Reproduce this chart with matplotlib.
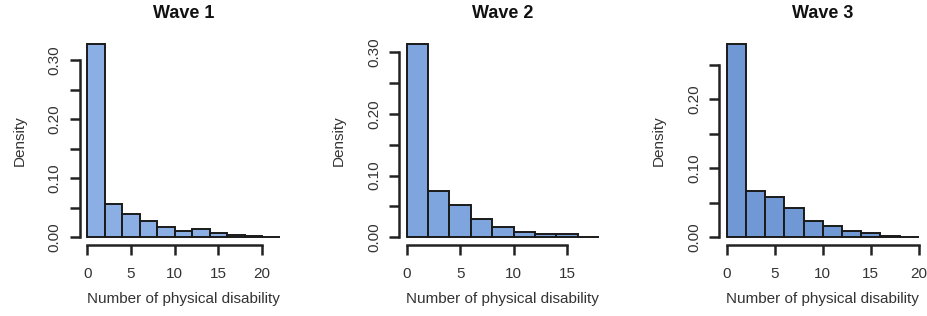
import numpy as np
import matplotlib
matplotlib.use("Agg")
import matplotlib.pyplot as plt

plt.rcParams["font.family"] = ["Liberation Sans", "DejaVu Sans"]

# histogram densities (bin width 2, starting at 0)
wave1_density = [0.328, 0.057, 0.040, 0.027, 0.018, 0.011, 0.0135, 0.0068, 0.0045, 0.002, 0.0008]
wave2_density = [0.314, 0.0746, 0.0524, 0.029, 0.0168, 0.008, 0.005, 0.0045, 0.001]
wave3_density = [0.280, 0.067, 0.0588, 0.0424, 0.024, 0.0164, 0.0096, 0.0067, 0.002, 0.001]

titles = ["Wave 1", "Wave 2", "Wave 3"]
x_ticks = [[0, 5, 10, 15, 20], [0, 5, 10, 15], [0, 5, 10, 15, 20]]
y_ticks = [[0.0, 0.05, 0.10, 0.15, 0.20, 0.25, 0.30],
           [0.0, 0.05, 0.10, 0.15, 0.20, 0.25, 0.30],
           [0.0, 0.05, 0.10, 0.15, 0.20, 0.25]]
colors = ["#8BAFE4", "#7FA5DE", "#6F98D5"]
bin_width = 2

fig = plt.figure(figsize=(9.28, 3.16), dpi=100)
lefts = [0.0858, 0.430, 0.7748]

for i, dens in enumerate([wave1_density, wave2_density, wave3_density]):
    ax = fig.add_axes([lefts[i], 0.2247, 0.2237, 0.661])
    edges = np.arange(len(dens) + 1) * bin_width
    ax.bar(edges[:-1], dens, width=bin_width, align="edge",
           color=colors[i], edgecolor="#1a1a1a", linewidth=1.4)

    xmax = edges[-1]
    ymax = max(dens)
    ax.set_xlim(-0.04 * xmax, xmax * 1.04)
    ax.set_ylim(-0.04 * ymax, ymax * 1.04)

    for s in ["top", "right"]:
        ax.spines[s].set_visible(False)
    for s in ["left", "bottom"]:
        ax.spines[s].set_linewidth(1.8)
        ax.spines[s].set_color("#222222")
    ax.spines["bottom"].set_bounds(x_ticks[i][0], x_ticks[i][-1])
    ax.spines["left"].set_bounds(y_ticks[i][0], y_ticks[i][-1])

    ax.set_xticks(x_ticks[i])
    ax.set_yticks(y_ticks[i])
    ax.set_yticklabels(["%.2f" % v if k % 2 == 0 else "" for k, v in enumerate(y_ticks[i])],
                       rotation=90, va="center")
    ax.tick_params(axis="both", length=7, width=1.8, color="#222222",
                   labelsize=11, labelcolor="#333333")
    ax.tick_params(axis="x", pad=9)
    ax.tick_params(axis="y", pad=6)

    ax.set_title(titles[i], fontsize=13, fontweight="bold", pad=13, color="#111111")
    ax.set_xlabel("Number of physical disability", fontsize=11, color="#333333", labelpad=8)
    ax.set_ylabel("Density", fontsize=11, color="#333333", labelpad=15)

fig.savefig("out.png", dpi=100)
